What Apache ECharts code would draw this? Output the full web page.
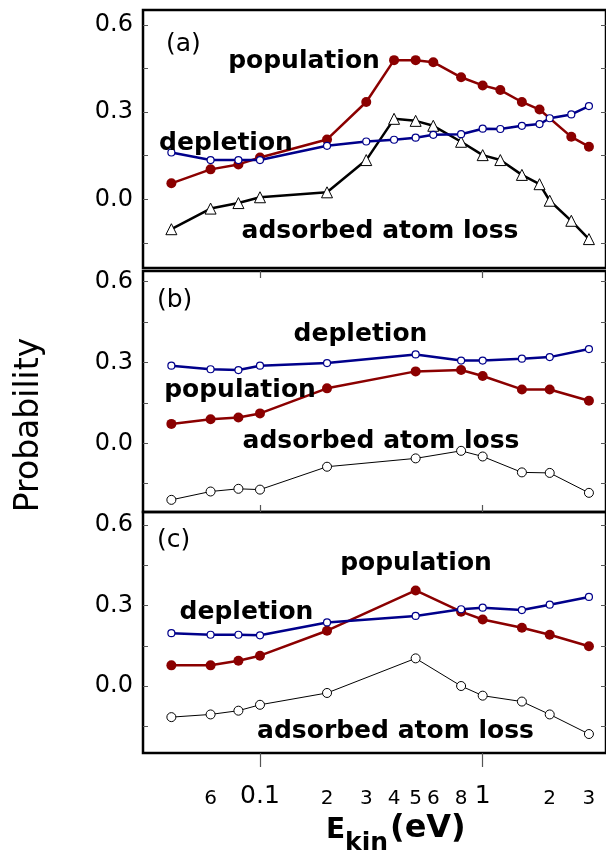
<!DOCTYPE html>
<html><head><meta charset="utf-8">
<script src="https://cdn.jsdelivr.net/npm/echarts@6/dist/echarts.min.js"></script>
<style>html,body{margin:0;padding:0;background:#fff}#c{width:606px;height:851px}</style>
</head><body><div id="c"></div>
<script>
// ---- data ----
const xA_pop = [0.04,0.06,0.08,0.1,0.2,0.3,0.4,0.5,0.6,0.8,1.0,1.2,1.5,1.8,2.5,3.0];
const xA_all = [0.04,0.06,0.08,0.1,0.2,0.3,0.4,0.5,0.6,0.8,1.0,1.2,1.5,1.8,2.0,2.5,3.0];
const xBC = [0.04,0.06,0.08,0.1,0.2,0.5,0.8,1.0,1.5,2.0,3.0];

const popA  = [0.055,0.103,0.120,0.144,0.206,0.335,0.479,0.479,0.472,0.420,0.392,0.376,0.335,0.309,0.215,0.181];
const depA  = [0.161,0.135,0.135,0.135,0.184,0.199,0.205,0.212,0.222,0.224,0.243,0.242,0.253,0.259,0.279,0.292,0.321];
const lossA = [-0.103,-0.032,-0.013,0.007,0.024,0.135,0.277,0.270,0.253,0.198,0.152,0.135,0.084,0.052,-0.005,-0.074,-0.137];

const depB  = [0.288,0.275,0.272,0.288,0.298,0.330,0.307,0.307,0.314,0.320,0.350];
const popB  = [0.072,0.089,0.096,0.111,0.204,0.267,0.272,0.250,0.200,0.200,0.158];
const lossB = [-0.210,-0.179,-0.169,-0.172,-0.087,-0.056,-0.028,-0.049,-0.108,-0.110,-0.184];

const depC  = [0.197,0.191,0.191,0.189,0.237,0.261,0.286,0.292,0.283,0.303,0.332];
const popC  = [0.077,0.077,0.094,0.113,0.206,0.356,0.277,0.248,0.217,0.191,0.148];
const lossC = [-0.116,-0.106,-0.092,-0.070,-0.026,0.103,0.000,-0.036,-0.058,-0.106,-0.179];

const xTickVals   = [0.06,0.1,0.2,0.3,0.4,0.5,0.6,0.8,1,2,3];
const xTickLabels = ['6','0.1','2','3','4','5','6','8','1','2','3'];
const xMajor = [0.1, 1];
const yTickVals  = [-0.15,0,0.15,0.3,0.45,0.6];
const yLabelVals = [0,0.3,0.6];

// ---- layout ----
const XMIN = 0.02983, XMAX = 3.579;
const FONT = '"DejaVu Sans", Verdana, sans-serif';
const grids = [
  {left:143, top:10,  width:463, height:258},
  {left:143, top:271, width:463, height:241},
  {left:143, top:512, width:463, height:241}
];
const yRanges = [[-0.2365,0.6516],[-0.2551,0.6397],[-0.2497,0.6485]];

const RED = '#8b0000', BLUE = '#00008b';

function zip(xs, ys){ return xs.map((x,i)=>[x, ys[i]]); }

function yAx(gi, right){
  return {
    type:'value', gridIndex:gi, min:yRanges[gi][0], max:yRanges[gi][1],
    position: right ? 'right' : 'left',
    splitLine:{show:false}, axisLine:{show:false, onZero:false},
    axisTick:{show:true, inside:true, length:5, lineStyle:{color:'#555', width:1}, customValues:yTickVals},
    axisLabel:{show:!right, customValues:yLabelVals, formatter:v=>Number(v).toFixed(1),
      fontFamily:FONT, fontSize:24, color:'#000', margin:10}
  };
}
function xFmt(v){
  for (let i=0;i<xTickVals.length;i++){
    if (Math.abs(v - xTickVals[i]) < 1e-6*xTickVals[i]+1e-9){
      const l = xTickLabels[i];
      return (xTickVals[i]===0.1 || xTickVals[i]===1) ? '{b|'+l+'}' : '{s|'+l+'}';
    }
  }
  return '';
}
function xAx(gi, pos, tick, label){
  return {
    type:'log', logBase:10, gridIndex:gi, min:XMIN, max:XMAX, position:pos,
    splitLine:{show:false}, axisLine:{show:true, onZero:false, lineStyle:{color:'rgba(0,0,0,0)', width:1}},
    axisTick: tick ? Object.assign({show:true, customValues:xMajor, lineStyle:{color:'#555', width:1.2}}, tick) : {show:false},
    axisLabel: label ? {show:true, customValues:xTickVals, formatter:xFmt, margin:30, color:'#000',
      rich:{ s:{fontFamily:FONT, fontSize:20, color:'#000', lineHeight:26, verticalAlign:'bottom'},
             b:{fontFamily:FONT, fontSize:25, color:'#000', lineHeight:26, verticalAlign:'bottom', padding:[6,0,0,0]} } }
      : {show:false}
  };
}

const xAxes = [
  xAx(0,'bottom',null,false),
  xAx(1,'bottom',{inside:true,length:7},false),
  xAx(1,'top',{inside:true,length:7},false),
  xAx(2,'bottom',{inside:false,length:14},true)
];
const yAxes = [yAx(0,false), yAx(1,false), yAx(2,false), yAx(0,true), yAx(1,true), yAx(2,true)];

function lossSeries(xi, yi, data, tri){
  return {type:'line', xAxisIndex:xi, yAxisIndex:yi, data, z:2,
    symbol: tri ? 'triangle' : 'circle', symbolSize: tri ? 11 : 9, showSymbol:true,
    itemStyle:{color:'#fff', borderColor:'#000', borderWidth:1},
    lineStyle:{color:'#000', width: tri ? 2.5 : 1}};
}
function popSeries(xi, yi, data){
  return {type:'line', xAxisIndex:xi, yAxisIndex:yi, data, z:3,
    symbol:'circle', symbolSize:10, showSymbol:true,
    itemStyle:{color:RED, borderColor:RED, borderWidth:0},
    lineStyle:{color:RED, width:2.5}};
}
function depSeries(xi, yi, data){
  return {type:'line', xAxisIndex:xi, yAxisIndex:yi, data, z:4,
    symbol:'circle', symbolSize:7, showSymbol:true,
    itemStyle:{color:'#fff', borderColor:BLUE, borderWidth:1.2},
    lineStyle:{color:BLUE, width:2.5}};
}

const series = [
  lossSeries(0,0,zip(xA_all,lossA),true), popSeries(0,0,zip(xA_pop,popA)), depSeries(0,0,zip(xA_all,depA)),
  lossSeries(1,1,zip(xBC,lossB),false), popSeries(1,1,zip(xBC,popB)), depSeries(1,1,zip(xBC,depB)),
  lossSeries(3,2,zip(xBC,lossC),false), popSeries(3,2,zip(xBC,popC)), depSeries(3,2,zip(xBC,depC))
];

function txt(t, x, y, font, align){
  return {type:'text', x, y, z:10, style:{text:t, font, fill:'#000', align: align||'center', verticalAlign:'middle',
    textAlign: align||'center', textVerticalAlign:'middle'}};
}
const BOLD = 'bold 25px ' + FONT;
const PANEL = '25px ' + FONT;
const graphic = [
  txt('(a)', 166, 44, PANEL, 'left'),
  txt('population', 304, 61, BOLD),
  txt('depletion', 226, 143.5, BOLD),
  txt('adsorbed atom loss', 380, 231.5, BOLD),
  txt('(b)', 157, 300, PANEL, 'left'),
  txt('depletion', 360.5, 334.5, BOLD),
  txt('population', 240, 390, BOLD),
  txt('adsorbed atom loss', 381, 441, BOLD),
  txt('(c)', 157, 540, PANEL, 'left'),
  txt('population', 416, 563.5, BOLD),
  txt('depletion', 246.5, 612.5, BOLD),
  txt('adsorbed atom loss', 395.5, 731.5, BOLD),
  {type:'text', x:29, y:425, rotation:Math.PI/2, z:10,
    style:{text:'Probability', font:'33px '+FONT, fill:'#000', align:'center', verticalAlign:'middle', textAlign:'center', textVerticalAlign:'middle'}},
  txt('E', 326, 831, 'bold 28px '+FONT, 'left'),
  txt('kin', 345, 843, 'bold 25px '+FONT, 'left'),
  txt('(eV)', 390, 829, 'bold 32px '+FONT, 'left')
];

const chart = echarts.init(document.getElementById('c'), null, {renderer:'canvas'});
chart.setOption({
  animation:false,
  backgroundColor:'#fff',
  grid: grids.map(g=>Object.assign({show:true, borderColor:'#000', borderWidth:2.5, backgroundColor:'transparent', containLabel:false}, g)),
  xAxis: xAxes,
  yAxis: yAxes,
  series,
  graphic
});
</script></body></html>
